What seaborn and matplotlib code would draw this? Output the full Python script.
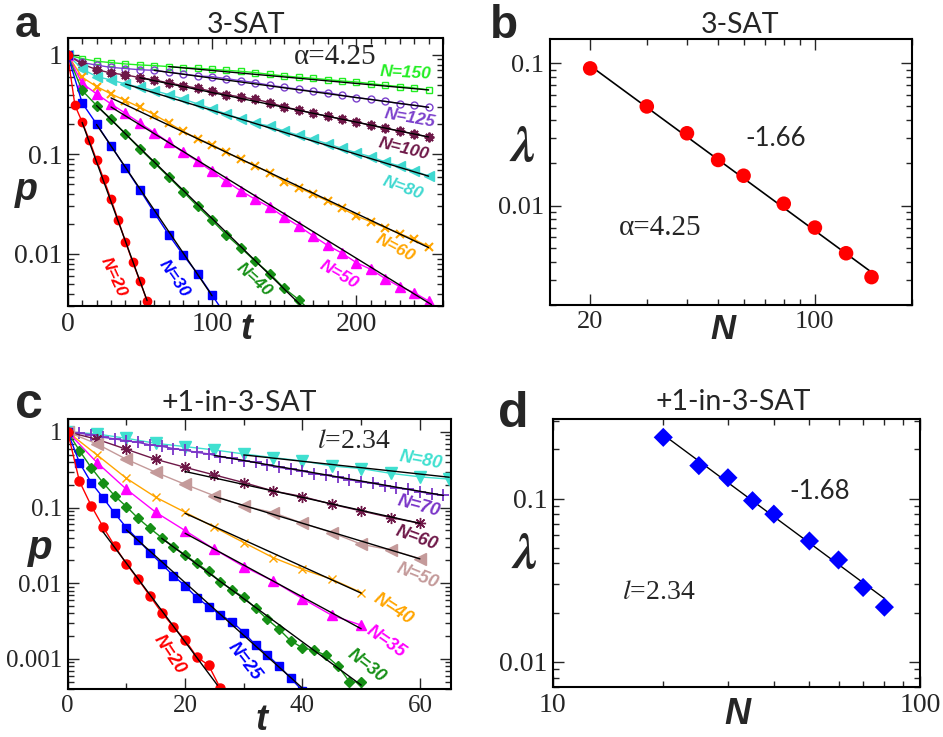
import numpy as np
import pandas as pd
import seaborn as sns
import matplotlib
matplotlib.use('Agg')
import matplotlib.pyplot as plt
from matplotlib.ticker import LogLocator, NullFormatter, MultipleLocator, FixedLocator

sns.set_style('ticks')
plt.rcParams['font.family'] = ['Liberation Sans', 'DejaVu Sans']
plt.rcParams['mathtext.fontset'] = 'stix'

# === panel a : 3-SAT, p(t) ===
t_a5 = [0, 5, 10, 15, 20, 25, 30, 35, 40, 45, 50, 55]
t_a10 = [0, 10, 20, 30, 40, 50, 60, 70, 80, 90, 100, 110, 120, 130, 140, 150,
         160, 170, 180, 190, 200, 210, 220, 230, 240, 250]

p_a_n20 = [1, 0.312, 0.212, 0.139, 0.088, 0.0563, 0.0354, 0.0218, 0.0133, 0.0083, 0.00535, 0.00337]
p_a_n30 = [1, 0.33, 0.202, 0.1225, 0.0735, 0.0442, 0.026, 0.0156, 0.00977, 0.00634, 0.00387, 0.00235]
p_a_n40 = [1, 0.44, 0.31, 0.227, 0.161, 0.114, 0.0822, 0.0594, 0.0423, 0.0301, 0.0218, 0.0155,
           0.0115, 0.00844, 0.00634, 0.00452, 0.00348, 0.0025]
p_a_n50 = [1, 0.519, 0.406, 0.322, 0.259, 0.207, 0.166, 0.1325, 0.105, 0.0854, 0.0677, 0.0537,
           0.043, 0.0354, 0.0295, 0.0235, 0.0191, 0.0152, 0.0122, 0.0102, 0.00818, 0.00701,
           0.00565, 0.0047, 0.00409, 0.00337]
p_a_n60 = [1, 0.596, 0.481, 0.406, 0.348, 0.298, 0.251, 0.207, 0.171, 0.144, 0.1255, 0.105,
           0.089, 0.0766, 0.0657, 0.0533, 0.0464, 0.0398, 0.0341, 0.0288, 0.0241, 0.0211,
           0.0184, 0.016, 0.014, 0.0118]
p_a_n80 = [1, 0.723, 0.606, 0.561, 0.511, 0.473, 0.438, 0.399, 0.361, 0.322, 0.287, 0.255,
           0.228, 0.206, 0.193, 0.172, 0.156, 0.142, 0.128, 0.115, 0.104, 0.095, 0.084,
           0.0766, 0.0683, 0.0608]
p_a_n100 = [1, 0.81, 0.712, 0.659, 0.63, 0.592, 0.561, 0.523, 0.492, 0.462, 0.431, 0.399,
            0.378, 0.358, 0.332, 0.300, 0.280, 0.259, 0.242, 0.226, 0.212, 0.196, 0.183,
            0.172, 0.160, 0.150]
p_a_n125 = [1, 0.84, 0.79, 0.75, 0.73, 0.71, 0.70, 0.67, 0.644, 0.615, 0.605, 0.578, 0.55,
            0.527, 0.496, 0.473, 0.452, 0.431, 0.418, 0.393, 0.373, 0.358, 0.342, 0.324,
            0.312, 0.298]
p_a_n150 = [1, 0.918, 0.864, 0.838, 0.812, 0.793, 0.781, 0.764, 0.746, 0.735, 0.718, 0.701,
            0.685, 0.664, 0.638, 0.615, 0.597, 0.583, 0.565, 0.548, 0.535, 0.515, 0.496,
            0.481, 0.466, 0.445]

# fitted straight lines (t start/end, p start/end)
fit_a_t = [[10, 55], [20, 100], [20, 162], [30, 252], [30, 250], [40, 250], [50, 250], [60, 250], [70, 250]]
fit_a_p = [[0.21, 0.0034], [0.2, 0.0038], [0.31, 0.003], [0.30, 0.0031], [0.37, 0.0116],
           [0.51, 0.0605], [0.59, 0.15], [0.70, 0.298], [0.764, 0.445]]

# === panel b : 3-SAT, lambda(N) ===
N_b = [20, 30, 40, 50, 60, 80, 100, 125, 150]
lam_b = [0.092, 0.0497, 0.0322, 0.0209, 0.0162, 0.0103, 0.0070, 0.00462, 0.00314]
fit_b_N = [20, 150]
fit_b_lam = [0.096, 0.0034]

# === panel c : +1-in-3-SAT, p(t) ===
t_c2 = [0, 2, 4, 6, 8, 10, 12, 14, 16, 18, 20, 22, 24, 26, 28, 30, 32, 34, 36, 38, 40,
        42, 44, 46, 48, 50, 52, 54, 56, 58, 60, 62, 64]
t_c5 = [0, 5, 10, 15, 20, 25, 30, 35, 40, 45, 50, 55, 60, 65]

p_c_n20 = [1, 0.223, 0.106, 0.0561, 0.0311, 0.018, 0.0113, 0.0068, 0.0041, 0.00267, 0.00178,
           0.00106, 0.000825, 0.00041]
p_c_n25 = [1, 0.393, 0.214, 0.136, 0.0841, 0.0544, 0.0374, 0.0254, 0.018, 0.0126, 0.00922,
           0.00647, 0.00492, 0.00381, 0.00311, 0.00223, 0.00153, 0.00113, 0.000808, 0.000555,
           0.00038]
p_c_n30 = [1, 0.567, 0.338, 0.214, 0.143, 0.103, 0.0722, 0.0533, 0.0401, 0.0305, 0.0237,
           0.0184, 0.0143, 0.0105, 0.00816, 0.00653, 0.00467, 0.00334, 0.00247, 0.00173,
           0.0014, 0.0013, 0.00111, 0.00081, 0.0005, 0.00049]
p_c_n35 = [1, 0.393, 0.175, 0.0868, 0.0497, 0.0281, 0.0166, 0.0107, 0.00627, 0.00377, 0.00279]
p_c_n40 = [1, 0.497, 0.244, 0.137, 0.0868, 0.055, 0.0345, 0.0218, 0.0153, 0.0113, 0.00753]
p_c_n50 = [1, 0.694, 0.435, 0.293, 0.203, 0.143, 0.105, 0.0859, 0.0621, 0.0468, 0.0328,
           0.0276, 0.0212]
p_c_n60 = [1, 0.80, 0.59, 0.435, 0.341, 0.270, 0.214, 0.166, 0.14, 0.1107, 0.0904, 0.0738, 0.0621]
p_c_n70 = [1, 0.96, 0.92, 0.85, 0.81, 0.765, 0.727, 0.676, 0.646, 0.603, 0.575, 0.537, 0.513,
           0.468, 0.447, 0.417, 0.398, 0.363, 0.339, 0.324, 0.302, 0.282, 0.269, 0.251, 0.234,
           0.219, 0.209, 0.195, 0.182, 0.174, 0.162, 0.151, 0.145]
p_c_n80 = [1, 0.94, 0.824, 0.708, 0.64, 0.578, 0.512, 0.458, 0.414, 0.355, 0.328, 0.284, 0.255, 0.238]

fit_c_t = [[6, 25.5], [10, 40], [16, 50], [20, 50], [20, 50], [25, 60], [20, 60], [25, 64], [30, 65]]
fit_c_p = [[0.048, 0.00045], [0.0507, 0.00041], [0.0393, 0.00045], [0.0458, 0.0025],
           [0.084, 0.0074], [0.14, 0.021], [0.30, 0.062], [0.49, 0.145], [0.497, 0.252]]

# === panel d : +1-in-3-SAT, lambda(N) ===
N_d = [20, 25, 30, 35, 40, 50, 60, 70, 80]
lam_d = [0.237, 0.159, 0.134, 0.097, 0.0802, 0.0549, 0.042, 0.0285, 0.0216]
fit_d_N = [20, 80]
fit_d_lam = [0.246, 0.0244]

W, H = 943, 737
fig = plt.figure(figsize=(W / 100, H / 100), dpi=100)

def fx(x):
    return x / W

def fy(y):
    return 1 - y / H

ax_a = fig.add_axes([fx(67.7), fy(306), fx(443 - 67.7), (306 - 38) / H])
ax_b = fig.add_axes([fx(550), fy(305), fx(911.7 - 550), (305 - 39) / H])
ax_c = fig.add_axes([fx(67.7), fy(689), fx(451 - 67.7), (689 - 419.3) / H])
ax_d = fig.add_axes([fx(552.7), fy(687), fx(920 - 552.7), (687 - 419) / H])

serif = 'Liberation Serif'
lbl_font = dict(family='Liberation Sans', fontweight='bold', style='italic')


def draw_series(ax, t, p, color, marker, ms, filled=True, mew=1.0):
    sns.lineplot(x=t, y=p, ax=ax, color=color, marker=marker, markersize=ms,
                 markerfacecolor=color if filled else 'none', markeredgecolor=color,
                 markeredgewidth=mew, linewidth=1.0, estimator=None, sort=False, zorder=2)


def draw_fits(ax, ft, fp):
    for tt, pp in zip(ft, fp):
        sns.lineplot(x=tt, y=pp, ax=ax, color='black', linewidth=1.0,
                     estimator=None, sort=False, zorder=3)


def style(ax, labelsize):
    ax.tick_params(which='both', direction='in', top=True, right=True,
                   labelsize=labelsize, labelfontfamily=serif, pad=4)
    ax.tick_params(which='major', length=8, width=1)
    ax.tick_params(which='minor', length=4, width=1)
    for s in ax.spines.values():
        s.set_linewidth(1.5)
        s.set_color('black')
    ax.set_xlabel('')
    ax.set_ylabel('')


# ---------------- panel a ----------------
c_maroon = '#6e1848'
c_purple = '#7b40cc'
draw_series(ax_a, t_a10, p_a_n150, '#22ee22', 's', 5, filled=False)
draw_series(ax_a, t_a10, p_a_n125, c_purple, 'o', 5, filled=False)
draw_series(ax_a, t_a10, p_a_n100, c_maroon, (8, 2, 0), 7, mew=1.4)
draw_series(ax_a, t_a10, p_a_n80, '#3fd8d0', '<', 6.5)
draw_series(ax_a, t_a10, p_a_n60, 'orange', 'x', 6, mew=1.5)
draw_series(ax_a, t_a10, p_a_n50, 'magenta', '^', 6.5)
draw_series(ax_a, t_a10[:18], p_a_n40, '#169016', 'D', 5)
draw_series(ax_a, t_a10[:12], p_a_n30, 'blue', 's', 5.5)
draw_series(ax_a, t_a5, p_a_n20, 'red', 'o', 6)
draw_fits(ax_a, fit_a_t, fit_a_p)
ax_a.set_yscale('log')
ax_a.set_xlim(0, 260)
ax_a.set_ylim(0.003, 1.48)
ax_a.set_xticks([0, 100, 200], ['0', '100', '200'])
ax_a.xaxis.set_minor_locator(MultipleLocator(10))
ax_a.set_yticks([0.01, 0.1, 1], ['0.01', '0.1', '1'])
ax_a.yaxis.set_minor_locator(LogLocator(subs=np.arange(2, 10)))
ax_a.yaxis.set_minor_formatter(NullFormatter())
style(ax_a, 20)

labels_a = [('N=150', 234, 0.664, -3, '#22ee22'), ('N=125', 237, 0.231, -10, c_purple),
            ('N=100', 233, 0.1136, -14, c_maroon), ('N=80', 232, 0.0457, -20, '#3fd8d0'),
            ('N=60', 227, 0.0114, -28, 'orange'), ('N=50', 188, 0.00615, -30, 'magenta'),
            ('N=40', 129, 0.0055, -42, '#169016'), ('N=30', 74, 0.0057, -55, 'blue'),
            ('N=20', 31.6, 0.0059, -65, 'red')]
for txt, x, y, rot, col in labels_a:
    ax_a.text(x, y, txt, color=col, fontsize=12.5, rotation=rot, ha='center', va='center',
              rotation_mode='anchor', **lbl_font)
ax_a.text(185, 0.96, 'α=4.25', fontsize=21, family=serif, ha='center', va='center')

# ---------------- panel b ----------------
sns.lineplot(x=fit_b_N, y=fit_b_lam, ax=ax_b, color='black', linewidth=1.2,
             estimator=None, sort=False, zorder=2)
sns.scatterplot(x=N_b, y=lam_b, ax=ax_b, color='red', s=110, edgecolor='none', zorder=3)
ax_b.set_xscale('log')
ax_b.set_yscale('log')
ax_b.set_xlim(15, 200)
ax_b.set_ylim(0.002, 0.148)
ax_b.xaxis.set_major_locator(FixedLocator([20, 100]))
ax_b.set_xticklabels(['20', '100'])
ax_b.xaxis.set_minor_locator(FixedLocator([30, 40, 50, 60, 70, 80, 90, 200]))
ax_b.xaxis.set_minor_formatter(NullFormatter())
ax_b.set_yticks([0.01, 0.1], ['0.01', '0.1'])
ax_b.yaxis.set_minor_locator(LogLocator(subs=np.arange(2, 10)))
ax_b.yaxis.set_minor_formatter(NullFormatter())
style(ax_b, 19)
ax_b.text(75.4, 0.0297, '-1.66', fontsize=18.5, family='Lato', ha='center', va='center')
ax_b.text(33.1, 0.00693, 'α=4.25', fontsize=21, family=serif, ha='center', va='center')

# ---------------- panel c ----------------
c_turq = '#40e0d0'
c_purple2 = '#7a35c8'
c_rosy = '#c49a9a'
draw_series(ax_c, t_c5, p_c_n80, c_turq, 'v', 8)
draw_series(ax_c, t_c2, p_c_n70, c_purple2, '+', 9, mew=1.3)
draw_series(ax_c, t_c5[:13], p_c_n60, c_maroon, (8, 2, 0), 8, mew=1.0)
draw_series(ax_c, t_c5[:13], p_c_n50, c_rosy, '<', 8)
draw_series(ax_c, t_c5[:11], p_c_n40, 'orange', 'x', 6, mew=1.0)
draw_series(ax_c, t_c5[:11], p_c_n35, 'magenta', '^', 7)
draw_series(ax_c, t_c2[:26], p_c_n30, '#169016', 'D', 5.5)
draw_series(ax_c, t_c2[:21], p_c_n25, 'blue', 's', 6)
draw_series(ax_c, t_c2[:14], p_c_n20, 'red', 'o', 6.5)
draw_fits(ax_c, fit_c_t, fit_c_p)
ax_c.set_yscale('log')
ax_c.set_xlim(0, 65.3)
ax_c.set_ylim(0.0004, 1.47)
ax_c.set_xticks([0, 20, 40, 60], ['0', '20', '40', '60'])
ax_c.xaxis.set_minor_locator(MultipleLocator(10))
ax_c.set_yticks([0.001, 0.01, 0.1, 1], ['0.001', '0.01', '0.1', '1'])
ax_c.yaxis.set_minor_locator(LogLocator(subs=np.arange(2, 10)))
ax_c.yaxis.set_minor_formatter(NullFormatter())
style(ax_c, 18)

labels_c = [('N=80', 60.2, 0.427, -10, c_turq), ('N=70', 59.8, 0.103, -15, c_purple2),
            ('N=60', 59.5, 0.0393, -20, c_maroon), ('N=50', 59.6, 0.0123, -22, c_rosy),
            ('N=40', 55.5, 0.00453, -33, 'orange'), ('N=35', 54.3, 0.0017, -35, 'magenta'),
            ('N=30', 51, 0.000808, -38, '#169016'), ('N=25', 30.2, 0.000922, -52, 'blue'),
            ('N=20', 17.4, 0.00113, -56, 'red')]
for txt, x, y, rot, col in labels_c:
    ax_c.text(x, y, txt, color=col, fontsize=13, rotation=rot, ha='center', va='center',
              rotation_mode='anchor', **lbl_font)
ax_c.text(48.7, 0.745, '$l$=2.34', fontsize=20, family=serif, ha='center', va='center')

# ---------------- panel d ----------------
sns.lineplot(x=fit_d_N, y=fit_d_lam, ax=ax_d, color='black', linewidth=1.0,
             estimator=None, sort=False, zorder=2)
sns.scatterplot(x=N_d, y=lam_d, ax=ax_d, color='blue', marker='D', s=95, edgecolor='none', zorder=3)
ax_d.set_xscale('log')
ax_d.set_yscale('log')
ax_d.set_xlim(10, 100)
ax_d.set_ylim(0.007, 0.307)
ax_d.xaxis.set_major_locator(FixedLocator([10, 100]))
ax_d.set_xticklabels(['10', '100'])
ax_d.xaxis.set_minor_locator(FixedLocator([20, 30, 40, 50, 60, 70, 80, 90]))
ax_d.xaxis.set_minor_formatter(NullFormatter())
ax_d.set_yticks([0.01, 0.1], ['0.01', '0.1'])
ax_d.yaxis.set_minor_locator(LogLocator(subs=np.arange(2, 10)))
ax_d.yaxis.set_minor_formatter(NullFormatter())
style(ax_d, 20)
ax_d.text(53.2, 0.111, '-1.68', fontsize=18.5, family='Lato', ha='center', va='center')
ax_d.text(19.4, 0.0265, '$l$=2.34', fontsize=20, family=serif, ha='center', va='center')

# ---------------- figure texts ----------------
for letter, x, y, size in [('a', 15, 37, 32), ('b', 490, 38, 33), ('c', 15, 418, 36), ('d', 498, 427, 36)]:
    fig.text(fx(x), fy(y), letter, fontsize=size, fontweight='bold', family='Liberation Sans',
             ha='left', va='baseline')

for title, x, y in [('3-SAT', 246, 33), ('3-SAT', 740, 33), ('+1-in-3-SAT', 239, 411),
                    ('+1-in-3-SAT', 733, 410)]:
    fig.text(fx(x), fy(y), title, fontsize=20.5, family='Lato', ha='center', va='baseline')

for txt, x, y, size in [('p', 26, 190, 27), ('t', 246, 330, 26), ('p', 40, 548, 29),
                        ('t', 261, 720, 26), ('N', 723, 330, 25), ('N', 737, 715, 26)]:
    fig.text(fx(x), fy(y), txt, fontsize=size, ha='center', va='center', **lbl_font)

for x, y in [(523, 149), (525, 556)]:
    fig.text(fx(x), fy(y), 'λ', fontsize=36, family='STIXGeneral', fontweight='bold',
             style='italic', ha='center', va='center')

fig.savefig('out.png', dpi=100)
